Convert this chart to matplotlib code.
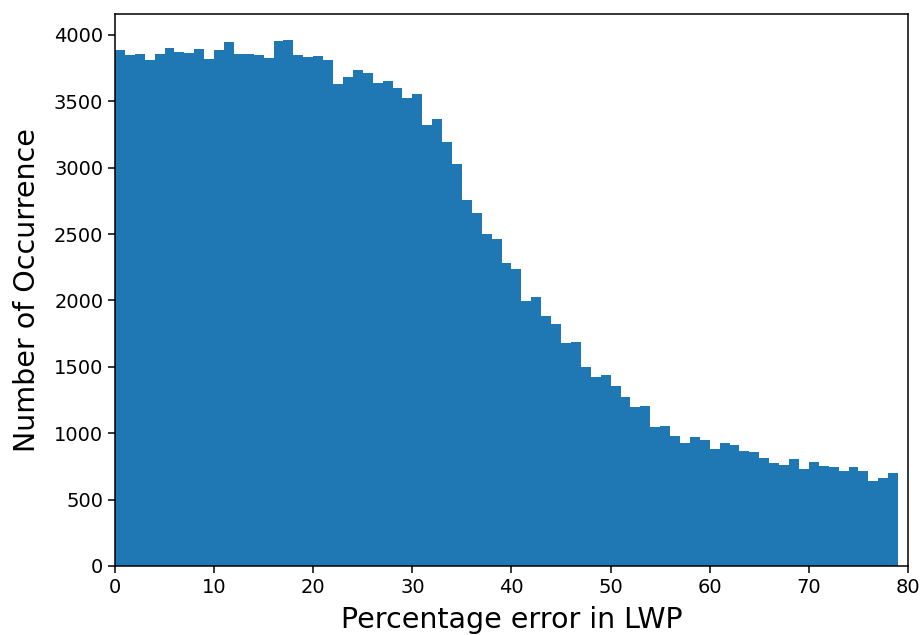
import matplotlib
matplotlib.use('Agg')
import matplotlib.pyplot as plt
import numpy as np

# histogram of percentage error, 1% bins from 0 to 79
bin_edges = np.arange(0, 80, 1)
counts = [
    3885, 3848, 3855, 3812, 3858, 3903, 3868, 3862, 3893, 3820,
    3890, 3945, 3855, 3858, 3850, 3824, 3958, 3960, 3848, 3836,
    3838, 3810, 3632, 3684, 3738, 3714, 3640, 3655, 3598, 3528,
    3558, 3325, 3368, 3190, 3030, 2755, 2657, 2499, 2466, 2283,
    2240, 1994, 2024, 1886, 1823, 1676, 1688, 1497, 1422, 1438,
    1352, 1276, 1200, 1203, 1045, 1057, 978, 924, 968, 946,
    879, 928, 913, 864, 859, 810, 778, 763, 803, 731,
    780, 756, 746, 718, 742, 715, 643, 664, 700,
]

fig = plt.figure(figsize=(9.22, 6.35), dpi=100)
ax = fig.add_axes([0.1247, 0.1087, 0.8601, 0.8693])

ax.hist(bin_edges[:-1], bins=bin_edges, weights=counts, color='#1f77b4')

ax.set_xlim(0, 80)
ax.set_xticks(np.arange(0, 81, 10))
ax.set_yticks(np.arange(0, 4001, 500))
ax.tick_params(labelsize=14, length=4.9, width=1.1)
for sp in ax.spines.values():
    sp.set_linewidth(1.1)
ax.set_xlabel('Percentage error in LWP', fontsize=20.5, labelpad=6.5)
ax.set_ylabel('Number of Occurrence', fontsize=20.5, labelpad=9.5)

fig.savefig('out.png', dpi=100)
